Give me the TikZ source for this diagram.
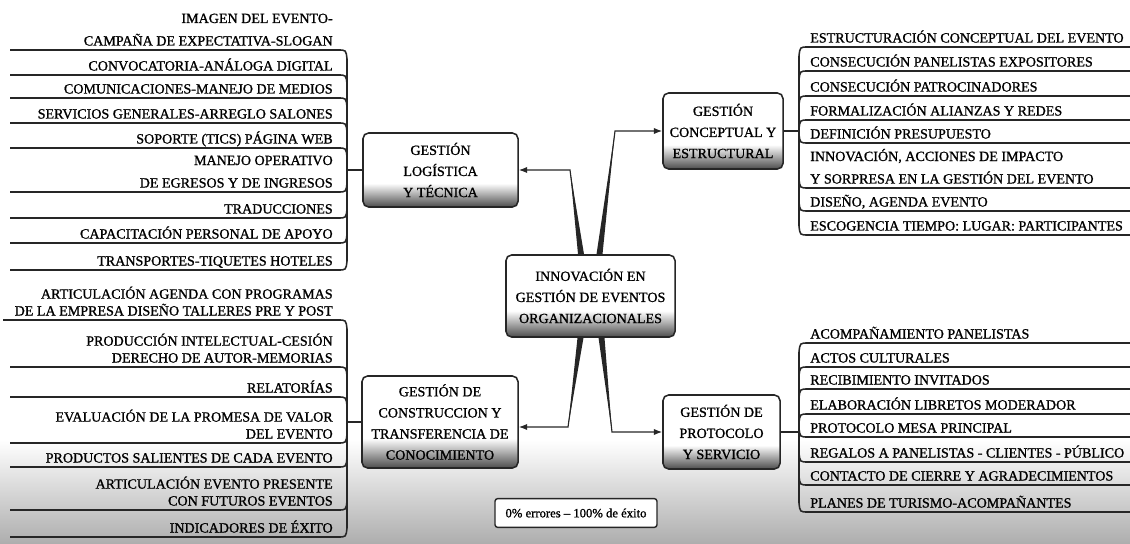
\documentclass[tikz,border=0pt]{standalone}
\usepackage{fontspec}
\setmainfont{Liberation Serif}[RawFeature={embolden=1.1}]
\usetikzlibrary{calc,arrows.meta}
\pgfdeclareverticalshading{boxshade}{100bp}{color(0bp)=(black!70); color(25bp)=(black!70); color(41bp)=(white); color(100bp)=(white)}
\tikzset{
  topic/.style={draw=black!85, line width=1.1pt, rounded corners=4pt, shade, shading=boxshade, align=center, inner sep=1pt, font=\fontsize{10}{15}\selectfont},
  leafL/.style={anchor=south east, align=right, inner xsep=0pt, inner ysep=3pt, text depth=0pt, font=\fontsize{10}{16}\selectfont},
  leafR/.style={anchor=south west, align=left, inner xsep=0pt, inner ysep=3pt, text depth=0pt, font=\fontsize{10}{16}\selectfont},
  tight/.style={font=\fontsize{10}{12}\selectfont},
  twig/.style={draw=black!85, line width=1.1pt},
  conn/.style={-{Latex[length=6pt,width=4.5pt]}, draw=black!85, line width=0.8pt},
  taper/.style={fill=black!85}
}

\begin{document}
\begin{tikzpicture}[x=0.025cm, y=-0.025cm]
	\useasboundingbox (0,0) rectangle (1130,544);
	% grey paper at the bottom
	\shade[top color=white, bottom color=black!32] (0,440) rectangle (1130,544);
	
	% topics
	\node[topic, minimum width=4.225cm, minimum height=2.05cm] (cen) at (590.5,296) {INNOVACIÓN EN\\GESTIÓN DE EVENTOS\\ORGANIZACIONALES};
	\node[topic, minimum width=3.875cm, minimum height=1.85cm] (log) at (440.5,170) {GESTIÓN\\LOGÍSTICA\\Y TÉCNICA};
	\node[topic, minimum width=3cm, minimum height=1.9cm] (conc) at (723,131) {GESTIÓN\\CONCEPTUAL Y\\ESTRUCTURAL};
	\node[topic, minimum width=3.9cm, minimum height=2.3cm] (cons) at (440,422) {GESTIÓN DE\\CONSTRUCCION Y\\TRANSFERENCIA DE\\CONOCIMIENTO};
	\node[topic, minimum width=2.925cm, minimum height=1.85cm] (prot) at (721.5,432) {GESTIÓN DE\\PROTOCOLO\\Y SERVICIO};
	\node[draw=black!85, line width=1pt, rounded corners=2pt, fill=white, minimum width=4.05cm, minimum height=0.72cm, font=\fontsize{9}{11}\selectfont] (res) at (576,513) {0\% errores -- 100\% de éxito};
	
	% branches from the centre
	\coordinate (k1) at (570,170);
	\coordinate (k2) at (615,131);
	\coordinate (k3) at (568,427);
	\coordinate (k4) at (612,432);
	\fill[taper] ($(cen.north)+(-12.5,0)$) -- ($(cen.north)+(-6.5,0)$) -- (k1) -- cycle;
	\draw[conn] ($(cen.north)+(-9.5,0)$) -- (k1) -- (log.east);
	\fill[taper] ($(cen.north)+(6,0)$) -- ($(cen.north)+(12,0)$) -- (k2) -- cycle;
	\draw[conn] ($(cen.north)+(9,0)$) -- (k2) -- (conc.west);
	\fill[taper] ($(cen.south)+(-13,0)$) -- ($(cen.south)+(-7,0)$) -- (k3) -- cycle;
	\draw[conn] ($(cen.south)+(-10,0)$) -- (k3) -- (k3 -| cons.east);
	\fill[taper] ($(cen.south)+(8,0)$) -- ($(cen.south)+(14,0)$) -- (k4) -- cycle;
	\draw[conn] ($(cen.south)+(11,0)$) -- (k4) -- (prot.west);
	
	% logistics list
	\coordinate (j1) at (347,170);
	\draw[twig] (j1) -- (log.west);
	\draw[twig] (347,59) -- (347,261);
	\node[leafL] (a1) at (333,50) {IMAGEN DEL EVENTO-\\CAMPAÑA DE EXPECTATIVA-SLOGAN};
	\draw[twig] (10,50) -- (338,50) .. controls (346,50) .. (347,59);
	\node[leafL] (a2) at (333,75) {CONVOCATORIA-ANÁLOGA DIGITAL};
	\draw[twig] (10,75) -- (338,75) .. controls (346,75) .. (347,84);
	\node[leafL] (a3) at (333,98) {COMUNICACIONES-MANEJO DE MEDIOS};
	\draw[twig] (10,98) -- (338,98) .. controls (346,98) .. (347,107);
	\node[leafL] (a4) at (333,123) {SERVICIOS GENERALES-ARREGLO SALONES};
	\draw[twig] (10,123) -- (338,123) .. controls (346,123) .. (347,132);
	\node[leafL] (a5) at (333,148) {SOPORTE (TICS) PÁGINA WEB};
	\draw[twig] (10,148) -- (338,148) .. controls (346,148) .. (347,157);
	\node[leafL] (a6) at (333,192) {MANEJO OPERATIVO\\DE EGRESOS Y DE INGRESOS};
	\draw[twig] (10,192) -- (338,192) .. controls (346,192) .. (347,183);
	\node[leafL] (a7) at (333,218) {TRADUCCIONES};
	\draw[twig] (10,218) -- (338,218) .. controls (346,218) .. (347,209);
	\node[leafL] (a8) at (333,243) {CAPACITACIÓN PERSONAL DE APOYO};
	\draw[twig] (10,243) -- (338,243) .. controls (346,243) .. (347,234);
	\node[leafL] (a9) at (333,270) {TRANSPORTES-TIQUETES HOTELES};
	\draw[twig] (10,270) -- (338,270) .. controls (346,270) .. (347,261);
	
	% knowledge list
	\coordinate (j2) at (347,422);
	\draw[twig] (j2) -- (cons.west);
	\draw[twig] (347,329) -- (347,528);
	\node[leafL, tight] (b1) at (333,320) {ARTICULACIÓN AGENDA CON PROGRAMAS\\DE LA EMPRESA DISEÑO TALLERES PRE Y POST};
	\draw[twig] (3,320) -- (338,320) .. controls (346,320) .. (347,329);
	\node[leafL, tight] (b2) at (333,367) {PRODUCCIÓN INTELECTUAL-CESIÓN\\DERECHO DE AUTOR-MEMORIAS};
	\draw[twig] (10,367) -- (338,367) .. controls (346,367) .. (347,376);
	\node[leafL] (b3) at (333,397) {RELATORÍAS};
	\draw[twig] (10,397) -- (338,397) .. controls (346,397) .. (347,406);
	\node[leafL, tight] (b4) at (333,443) {EVALUACIÓN DE LA PROMESA DE VALOR\\DEL EVENTO};
	\draw[twig] (10,443) -- (338,443) .. controls (346,443) .. (347,434);
	\node[leafL] (b5) at (333,467) {PRODUCTOS SALIENTES DE CADA EVENTO};
	\draw[twig] (10,467) -- (338,467) .. controls (346,467) .. (347,458);
	\node[leafL, tight] (b6) at (333,510) {ARTICULACIÓN EVENTO PRESENTE\\CON FUTUROS EVENTOS};
	\draw[twig] (10,510) -- (338,510) .. controls (346,510) .. (347,501);
	\node[leafL] (b7) at (333,537) {INDICADORES DE ÉXITO};
	\draw[twig] (10,537) -- (338,537) .. controls (346,537) .. (347,528);
	
	% concept list
	\coordinate (j3) at (799,131);
	\draw[twig] (j3) -- (conc.east);
	\draw[twig] (799,56) -- (799,226);
	\node[leafR] (c1) at (810,47) {ESTRUCTURACIÓN CONCEPTUAL DEL EVENTO};
	\draw[twig] (1130,47) -- (808,47) .. controls (800,47) .. (799,56);
	\node[leafR] (c2) at (810,71) {CONSECUCIÓN PANELISTAS EXPOSITORES};
	\draw[twig] (1130,71) -- (808,71) .. controls (800,71) .. (799,80);
	\node[leafR] (c3) at (810,96) {CONSECUCIÓN PATROCINADORES};
	\draw[twig] (1130,96) -- (808,96) .. controls (800,96) .. (799,105);
	\node[leafR] (c4) at (810,120) {FORMALIZACIÓN ALIANZAS Y REDES};
	\draw[twig] (1130,120) -- (808,120) .. controls (800,120) .. (799,129);
	\node[leafR] (c5) at (810,143) {DEFINICIÓN PRESUPUESTO};
	\draw[twig] (1130,143) -- (808,143) .. controls (800,143) .. (799,134);
	\node[leafR] (c6) at (810,188) {INNOVACIÓN, ACCIONES DE IMPACTO\\Y SORPRESA EN LA GESTIÓN DEL EVENTO};
	\draw[twig] (1130,188) -- (808,188) .. controls (800,188) .. (799,179);
	\node[leafR] (c7) at (810,211) {DISEÑO, AGENDA EVENTO};
	\draw[twig] (1130,211) -- (808,211) .. controls (800,211) .. (799,202);
	\node[leafR] (c8) at (810,235) {ESCOGENCIA TIEMPO: LUGAR: PARTICIPANTES};
	\draw[twig] (1130,235) -- (808,235) .. controls (800,235) .. (799,226);
	
	% protocol list
	\coordinate (j4) at (799,432);
	\draw[twig] (j4) -- (prot.east);
	\draw[twig] (799,352) -- (799,503);
	\node[leafR] (d1) at (810,343) {ACOMPAÑAMIENTO PANELISTAS};
	\draw[twig] (1130,343) -- (808,343) .. controls (800,343) .. (799,352);
	\node[leafR] (d2) at (810,367) {ACTOS CULTURALES};
	\draw[twig] (1130,367) -- (808,367) .. controls (800,367) .. (799,376);
	\node[leafR] (d3) at (810,389) {RECIBIMIENTO INVITADOS};
	\draw[twig] (1130,389) -- (808,389) .. controls (800,389) .. (799,398);
	\node[leafR] (d4) at (810,414) {ELABORACIÓN LIBRETOS MODERADOR};
	\draw[twig] (1130,414) -- (808,414) .. controls (800,414) .. (799,423);
	\node[leafR] (d5) at (810,437) {PROTOCOLO MESA PRINCIPAL};
	\draw[twig] (1130,437) -- (808,437) .. controls (800,437) .. (799,428);
	\node[leafR] (d6) at (810,462) {REGALOS A PANELISTAS - CLIENTES - PÚBLICO};
	\draw[twig] (1130,462) -- (808,462) .. controls (800,462) .. (799,453);
	\node[leafR] (d7) at (810,485) {CONTACTO DE CIERRE Y AGRADECIMIENTOS};
	\draw[twig] (1130,485) -- (808,485) .. controls (800,485) .. (799,476);
	\node[leafR] (d8) at (810,512) {PLANES DE TURISMO-ACOMPAÑANTES};
	\draw[twig] (1130,512) -- (808,512) .. controls (800,512) .. (799,503);
\end{tikzpicture}
\end{document}
